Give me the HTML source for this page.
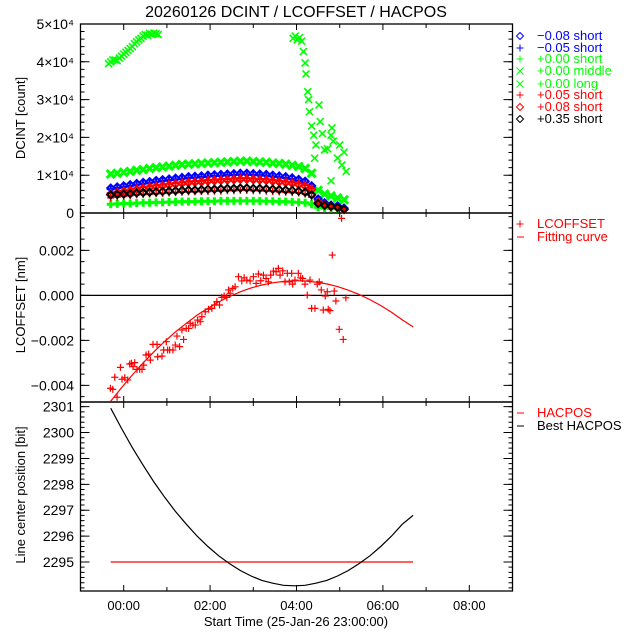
<!DOCTYPE html>
<html><head><meta charset="utf-8">
<style>
body{margin:0;background:#fff;}
svg{display:block;font-family:"Liberation Sans","DejaVu Sans",sans-serif;}
</style></head>
<body>
<svg id="chart" width="640" height="640" viewBox="0 0 640 640" xmlns="http://www.w3.org/2000/svg">
<rect x="0" y="0" width="640" height="640" fill="#fff"/>
<text x="296" y="17" font-size="16" text-anchor="middle">20260126 DCINT / LCOFFSET / HACPOS</text>
<text transform="translate(25,118) rotate(-90)" font-size="13" text-anchor="middle">DCINT [count]</text>
<text transform="translate(25,305) rotate(-90)" font-size="13" text-anchor="middle">LCOFFSET [nm]</text>
<text transform="translate(25,495) rotate(-90)" font-size="13" text-anchor="middle">Line center position [bit]</text>
<text x="296" y="626" font-size="13" text-anchor="middle">Start Time (25-Jan-26 23:00:00)</text>
<g id="legend" font-size="13">
<g fill="#0000ff"><text x="537" y="40">−0.08 short</text></g>
<g fill="#0000ff"><text x="537" y="52">−0.05 short</text></g>
<g fill="#00ff00"><text x="537" y="63">+0.00 short</text></g>
<g fill="#00ff00"><text x="537" y="75">+0.00 middle</text></g>
<g fill="#00ff00"><text x="537" y="88">+0.00 long</text></g>
<g fill="#ff0000"><text x="537" y="99">+0.05 short</text></g>
<g fill="#ff0000"><text x="537" y="111">+0.08 short</text></g>
<g fill="#000000"><text x="537" y="123">+0.35 short</text></g>
<g fill="#ff0000"><text x="537" y="228">LCOFFSET</text></g>
<g fill="#ff0000"><text x="537" y="241">Fitting curve</text></g>
<g fill="#ff0000"><text x="537" y="417">HACPOS</text></g>
<g fill="#000000"><text x="537" y="430">Best HACPOS</text></g>
</g>
</svg>
<script>
// ---- data ----
const xTickHours = [0, 2, 4, 6, 8];
const xTickLabels = ["00:00", "02:00", "04:00", "06:00", "08:00"];
const topTickValues = [0, 10000, 20000, 30000, 40000, 50000];
const topTickLabels = ["0", "1×10⁴", "2×10⁴", "3×10⁴", "4×10⁴", "5×10⁴"];
const midTickValues = [-0.004, -0.002, 0, 0.002];
const midTickLabels = ["−0.004", "−0.002", "0.000", "0.002"];
const botTickValues = [2295, 2296, 2297, 2298, 2299, 2300, 2301];
const botTickLabels = ["2295", "2296", "2297", "2298", "2299", "2300", "2301"];

const bandTimes = [-0.3,-0.15,0,0.15,0.3,0.45,0.6,0.75,0.9,1.05,1.2,1.35,1.5,1.65,1.8,1.95,2.1,2.25,2.4,2.55,2.7,2.85,3.0,3.15,3.3,3.45,3.6,3.75,3.9,4.05,4.2,4.35,4.5,4.65,4.8,4.95,5.1];
const greenMiddle = [10300,10500,10800,11000,11300,11500,11800,12000,12200,12400,12600,12800,12900,13000,13100,13200,13300,13400,13500,13600,13700,13700,13600,13500,13400,13200,13100,12900,12600,12300,11800,10500,6000,5000,4500,4000,3500];
const blueM008 = [6600,6900,7200,7500,7800,8100,8300,8600,8800,9000,9200,9400,9600,9700,9800,10000,10100,10200,10300,10400,10500,10500,10400,10300,10200,10000,9800,9600,9300,8900,8400,7200,3700,2700,2100,1900,1300];
const blueM005 = [6300,6600,6900,7200,7500,7800,8000,8300,8500,8700,8900,9100,9300,9400,9500,9700,9800,9900,10000,10100,10200,10200,10100,10000,9900,9700,9500,9300,9000,8600,8100,7000,3500,2500,2000,1800,1200];
const redP005 = [5300,5600,5900,6200,6500,6800,7000,7300,7500,7700,7900,8100,8300,8400,8500,8700,8800,8900,9000,9100,9200,9200,9100,9000,8900,8700,8500,8300,8100,7800,7400,6500,3000,2200,1800,1500,1000];
const redP005Low = [4000,4200,4400,4600,4800,4900,5000,5100,5200,5300,5400,5500,5600,5600,5700,5700,5800,5800,5900,5900,6000,6000,5900,5900,5800,5700,5600,5500,5400,5300,5000,4200,2500,1800,1500,1300,900];
const redP008 = [5000,5300,5600,5900,6200,6500,6700,7000,7200,7400,7600,7800,8000,8100,8200,8400,8500,8600,8700,8800,8900,8900,8800,8700,8600,8400,8200,8000,7800,7500,7100,6200,2800,2100,1700,1400,900];
const blackP035 = [4800,4900,5000,5100,5300,5400,5500,5600,5700,5800,5900,6000,6100,6100,6200,6300,6300,6400,6500,6500,6600,6600,6500,6500,6400,6300,6200,6100,6000,5800,5500,4800,2500,2000,1800,1500,1000];
const greenShort = [2300,2400,2500,2500,2600,2700,2700,2800,2800,2900,2900,3000,3000,3000,3100,3100,3100,3200,3200,3200,3200,3200,3200,3200,3100,3100,3000,3000,2900,2800,2700,2300,1500,1300,1200,1200,1000];
const longTimes = [-0.35,-0.3,-0.25,-0.2,-0.15,-0.1,-0.05,0,0.05,0.1,0.15,0.2,0.25,0.3,0.35,0.4,0.45,0.5,0.55,0.6,0.65,0.7,0.75,0.8,3.92,3.97,4.02,4.07,4.12,4.16,4.2,4.22,4.26,4.28,4.3,4.35,4.4,4.42,4.45,4.52,4.55,4.6,4.65,4.72,4.8,4.82,4.85,4.8,4.95,5.0,5.05,5.1,5.15];
const longValues = [39500,40000,40500,40500,40300,41000,41500,42000,42500,43000,43500,44000,44800,45300,45800,46200,46800,47200,47000,47500,47300,47600,47400,47200,46200,46800,45800,46400,45500,42700,39700,36800,32100,30000,26800,23000,20600,14500,18000,28600,24200,21000,16700,17000,20600,22500,19000,8500,14500,18000,12700,16100,11000];

const lcTimes = [-0.307,-0.253,-0.153,-0.207,-0.076,-0.038,0.024,0.093,0.139,0.178,0.216,0.255,0.309,0.370,0.424,0.463,0.517,0.578,0.617,0.678,0.771,0.786,0.886,0.925,0.986,1.017,1.063,1.140,1.194,1.233,1.294,1.386,1.348,1.448,1.502,1.540,1.602,1.656,1.710,1.771,1.810,1.887,1.964,2.041,2.102,2.156,2.218,2.272,2.326,2.387,2.426,2.464,2.526,2.580,2.657,2.734,2.788,2.849,2.926,3.003,3.065,3.119,3.172,3.234,3.296,3.349,3.403,3.465,3.527,3.580,3.619,3.681,3.734,3.788,3.834,3.888,3.911,3.965,4.042,4.096,4.142,4.196,4.250,4.312,4.350,4.427,4.481,4.527,4.574,4.620,4.666,4.712,4.735,4.774,4.828,4.874,4.912,4.989,5.043,5.082,5.143];
const lcValues = [-4.13,-4.18,-4.53,-3.64,-3.20,-3.73,-3.66,-3.76,-3.05,-3.02,-3.17,-2.99,-3.29,-3.29,-3.29,-3.10,-2.65,-2.61,-2.88,-2.18,-2.18,-2.73,-2.70,-2.43,-2.06,-2.43,-2.43,-2.43,-2.21,-1.81,-2.28,-1.96,-1.54,-1.47,-1.47,-1.24,-1.32,-1.32,-1.10,-1.17,-0.95,-0.73,-0.62,-0.58,-0.43,-0.28,-0.43,-0.09,-0.03,-0.09,0.24,0.09,0.31,0.38,0.83,0.64,0.78,0.68,0.64,0.83,0.53,0.95,0.65,0.90,0.75,0.60,0.90,1.08,1.05,1.20,0.90,1.09,0.60,0.98,0.60,0.98,0.50,0.68,0.98,0.78,0.75,0.50,0.01,0.68,-0.58,-0.58,0.50,0.60,0.24,-0.65,-0.03,0.16,-0.62,-0.68,1.79,0.19,-0.25,-1.51,3.42,-1.96,-0.11];
const fitTimes = [-0.3,-0.05,0.2,0.45,0.7,0.95,1.2,1.45,1.7,1.95,2.2,2.45,2.7,2.95,3.2,3.45,3.7,3.95,4.2,4.45,4.7,4.95,5.2,5.45,5.7,5.95,6.2,6.45,6.7];
const fitValues = [-4.71,-4.11,-3.54,-3.00,-2.51,-2.05,-1.62,-1.24,-0.88,-0.57,-0.29,-0.05,0.16,0.33,0.46,0.56,0.62,0.65,0.64,0.59,0.51,0.39,0.23,0.04,-0.19,-0.45,-0.75,-1.09,-1.40];
const hacposTimes = [-0.3, 6.7];
const hacposValues = [2295, 2295];
const bestTimes = [-0.3,-0.05,0.2,0.45,0.7,0.95,1.2,1.45,1.7,1.95,2.2,2.45,2.7,2.95,3.2,3.45,3.7,3.95,4.2,4.45,4.7,4.95,5.2,5.45,5.7,5.95,6.2,6.45,6.7];
const bestValues = [2300.94,2300.16,2299.42,2298.74,2298.09,2297.50,2296.95,2296.46,2296.00,2295.60,2295.24,2294.94,2294.67,2294.46,2294.29,2294.18,2294.10,2294.08,2294.10,2294.18,2294.29,2294.46,2294.67,2294.94,2295.24,2295.60,2296.00,2296.46,2296.80];

// ---- layout ----
const NS = "http://www.w3.org/2000/svg";
const svg = document.getElementById("chart");
const X0 = 80.5, X1 = 512.5, T0 = -1, T1 = 9;
const xs = t => X0 + (t - T0) / (T1 - T0) * (X1 - X0);
const panels = {
  top: {y0: 24, y1: 213, v0: 0, v1: 50000},
  mid: {y0: 213, y1: 402, v0: -0.00474, v1: 0.00366},
  bot: {y0: 402, y1: 591, v0: 2293.88, v1: 2301.18}
};
const ys = (p, v) => p.y1 - (v - p.v0) / (p.v1 - p.v0) * (p.y1 - p.y0);

function mk(tag, attrs, parent) {
  const e = document.createElementNS(NS, tag);
  for (const k in attrs) e.setAttribute(k, attrs[k]);
  (parent || svg).appendChild(e);
  return e;
}
function marker(kind, x, y, color, s, g, w) {
  const sw = w || 1.2;
  let e;
  if (kind === "plus") e = mk("path", {d: `M${x-s},${y}H${x+s}M${x},${y-s}V${y+s}`, stroke: color, "stroke-width": sw, fill: "none"}, g);
  else if (kind === "x") e = mk("path", {d: `M${x-s},${y-s}L${x+s},${y+s}M${x-s},${y+s}L${x+s},${y-s}`, stroke: color, "stroke-width": sw, fill: "none"}, g);
  else e = mk("path", {d: `M${x},${y-s}L${x+s},${y}L${x},${y+s}L${x-s},${y}Z`, stroke: color, "stroke-width": sw, fill: "none"}, g);
  return e;
}

// legend symbols
const legSyms = [["diamond","#0000ff",36],["plus","#0000ff",48],["plus","#00ff00",59],["x","#00ff00",71],["x","#00ff00",84],["plus","#ff0000",95],["diamond","#ff0000",107],["diamond","#000000",119],["plus","#ff0000",224]];
legSyms.forEach(s => {
  const m = marker(s[0], 520, s[2], s[1], 3.5, null, 1);
  
  
});
[["#ff0000",237],["#ff0000",413],["#000000",426]].forEach(s => {
  const m = mk("line", {x1: 517, x2: 524, y1: s[1], y2: s[1], stroke: s[0], "stroke-width": 1});
  
  
});

// frames and ticks
for (const key of ["top", "mid", "bot"]) {
  const p = panels[key];
  const g = mk("g", {});
  
  
  const fr = mk("rect", {x: X0, y: p.y0, width: X1 - X0, height: p.y1 - p.y0, fill: "none", stroke: "#000", "stroke-width": 1.3}, g);
  
  
  for (let h = -1; h <= 9; h++) {
    const len = (h % 2 === 0) ? 6 : 4;
    const x = xs(h);
    mk("path", {d: `M${x},${p.y1}v${-len}M${x},${p.y0}v${len}`, stroke: "#000", "stroke-width": 1}, g);
  }
  let vals, minorStep;
  if (key === "top") { vals = topTickValues; minorStep = 2000; }
  else if (key === "mid") { vals = midTickValues; minorStep = 0.0005; }
  else { vals = botTickValues; minorStep = 0.2; }
  const nMin = Math.ceil(p.v0 / minorStep), nMax = Math.floor(p.v1 / minorStep);
  for (let i = nMin; i <= nMax; i++) {
    const y = ys(p, i * minorStep);
    mk("path", {d: `M${X0},${y}h4M${X1},${y}h-4`, stroke: "#000", "stroke-width": 1}, g);
  }
  vals.forEach(v => {
    const y = ys(p, v);
    mk("path", {d: `M${X0},${y}h9M${X1},${y}h-9`, stroke: "#000", "stroke-width": 1}, g);
  });
}
function yLabels(p, vals, labels, name) {
  vals.forEach((v, i) => {
    const t = mk("text", {x: 74, y: ys(p, v) + 5, "font-size": 14, "text-anchor": "end"});
    t.textContent = labels[i];
    
    
  });
}
yLabels(panels.top, topTickValues, topTickLabels, "top-y");
yLabels(panels.mid, midTickValues, midTickLabels, "mid-y");
yLabels(panels.bot, botTickValues, botTickLabels, "bot-y");
xTickHours.forEach((h, i) => {
  const t = mk("text", {x: xs(h), y: 610, "font-size": 13, "text-anchor": "middle"});
  t.textContent = xTickLabels[i];
  
  
});

// ---- top panel series ----
function bandSeries(vals, kind, color, size, w, name) {
  const g = mk("g", {});
  
  
  vals.forEach((v, i) => {
    const m = marker(kind, xs(bandTimes[i]), ys(panels.top, v), color, size, g, w);
    
    
  });
}
bandSeries(greenShort, "plus", "#00ff00", 4, 3, "series-000-short");
bandSeries(greenMiddle, "x", "#00ff00", 4, 3, "series-000-middle");
bandSeries(blueM008, "diamond", "#0000ff", 3.5, 2, "series-m008-short");
bandSeries(blueM005, "plus", "#0000ff", 4, 2, "series-m005-short");
bandSeries(redP005, "plus", "#ff0000", 4, 2, "series-005-short");
bandSeries(redP005Low, "plus", "#ff0000", 3.5, 1.5, "series-005-short-low");
bandSeries(redP008, "diamond", "#ff0000", 3.5, 2, "series-008-short");
bandSeries(blackP035, "diamond", "#000000", 3.5, 2, "series-035-short");
{
  const g = mk("g", {});
  
  
  longValues.forEach((v, i) => {
    const m = marker("x", xs(longTimes[i]), ys(panels.top, v), "#00ff00", 3.5, g, 1.6);
    
    
  });
}

// ---- middle panel ----
{
  const p = panels.mid;
  const z = mk("line", {x1: X0, x2: X1, y1: ys(p, 0), y2: ys(p, 0), stroke: "#000", "stroke-width": 1.3});
  
  
  const g = mk("g", {});
  
  
  lcValues.forEach((v, i) => {
    const m = marker("plus", xs(lcTimes[i]), ys(p, v / 1000), "#ff0000", 3.5, g);
    
    
  });
  const d = fitTimes.map((t, i) => (i ? "L" : "M") + xs(t).toFixed(1) + "," + ys(p, fitValues[i] / 1000).toFixed(1)).join("");
  const f = mk("path", {d: d, stroke: "#ff0000", "stroke-width": 1.2, fill: "none"});
  
  
}

// ---- bottom panel ----
{
  const p = panels.bot;
  const d1 = hacposTimes.map((t, i) => (i ? "L" : "M") + xs(t).toFixed(1) + "," + ys(p, hacposValues[i]).toFixed(1)).join("");
  const h = mk("path", {d: d1, stroke: "#ff0000", "stroke-width": 1.2, fill: "none"});
  
  
  const d2 = bestTimes.map((t, i) => (i ? "L" : "M") + xs(t).toFixed(1) + "," + ys(p, bestValues[i]).toFixed(1)).join("");
  const b = mk("path", {d: d2, stroke: "#000", "stroke-width": 1.2, fill: "none"});
  
  
}
</script>
</body></html>
